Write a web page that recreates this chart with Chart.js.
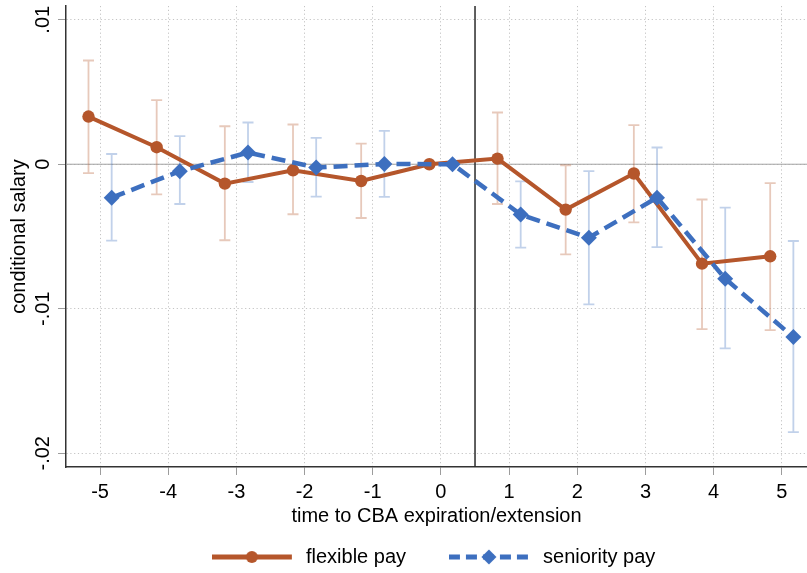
<!DOCTYPE html>
<html>
<head>
<meta charset="utf-8">
<script src="https://cdn.jsdelivr.net/npm/chart.js@4/dist/chart.umd.min.js"></script>
<style>
html,body{margin:0;padding:0;background:#fff;}
#wrap{width:807px;height:573px;}
</style>
</head>
<body>
<div id="wrap"><canvas id="c" width="807" height="573"></canvas></div>
<script>
// ---- data ----
const periods = [-5, -4, -3, -2, -1, 0, 1, 2, 3, 4, 5];
const seriesLabels = ['flexible pay', 'seniority pay'];

const flexibleCoef = [0.00330, 0.00118, -0.00134, -0.00042, -0.00116, 0, 0.00039, -0.00314, -0.00064, -0.00688, -0.00637];
const flexibleHi   = [0.00718, 0.00443, 0.00263, 0.00275, 0.00143, null, 0.00358, -0.00007, 0.00270, -0.00244, -0.00130];
const flexibleLo   = [-0.00062, -0.00208, -0.00526, -0.00346, -0.00372, null, -0.00275, -0.00623, -0.00402, -0.01141, -0.01148];

const seniorityCoef = [-0.00231, -0.00048, 0.00081, -0.00023, 0.00002, 0, -0.00348, -0.00508, -0.00231, -0.00792, -0.01196];
const seniorityHi   = [0.00071, 0.00194, 0.00289, 0.00182, 0.00231, null, -0.00118, -0.00048, 0.00116, -0.00300, -0.00531];
const seniorityLo   = [-0.00528, -0.00275, -0.00123, -0.00224, -0.00226, null, -0.00577, -0.00970, -0.00573, -0.01274, -0.01854];

const xTickValues = [-5, -4, -3, -2, -1, 0, 1, 2, 3, 4, 5];
const yTickValues = [-0.02, -0.01, 0, 0.01];
const yTickLabels = ['-.02', '-.01', '0', '.01'];
const eventLine = 0.5;

// ---- styling ----
const FONT = '"Liberation Sans", Arial, Helvetica, sans-serif';
const flexColor = '#B5562B';
const senColor = '#3D6FBF';
const flexCI = 'rgba(181,86,43,0.32)';
const senCI = 'rgba(61,111,191,0.32)';
const flexOffset = -0.17;
const senOffset = 0.17;

Chart.defaults.font.family = FONT;
Chart.defaults.color = '#000';

// legend key: 80px sample on the left of a 90px wide image
function legendImage(color, dash, shape) {
  const c = document.createElement('canvas');
  c.width = 90; c.height = 20;
  const g = c.getContext('2d');
  g.strokeStyle = color;
  g.lineWidth = 5;
  g.setLineDash(dash);
  g.beginPath(); g.moveTo(0, 10); g.lineTo(80, 10); g.stroke();
  g.setLineDash([]);
  g.fillStyle = color;
  g.beginPath();
  if (shape === 'circle') {
    g.arc(40, 10, 6, 0, Math.PI * 2);
  } else {
    g.moveTo(40, 2.5); g.lineTo(47.5, 10); g.lineTo(40, 17.5); g.lineTo(32.5, 10); g.closePath();
  }
  g.fill();
  return c;
}
const legendImages = [legendImage(flexColor, [], 'circle'), legendImage(senColor, [11, 6], 'diamond')];

const errorSeries = [
  {lo: flexibleLo, hi: flexibleHi, offset: flexOffset, color: flexCI},
  {lo: seniorityLo, hi: seniorityHi, offset: senOffset, color: senCI}
];

const decorations = {
  id: 'decorations',
  beforeDatasetsDraw(chart) {
    const {ctx, chartArea: a, scales: {x, y}} = chart;
    ctx.save();
    // zero reference line
    const y0 = y.getPixelForValue(0);
    ctx.strokeStyle = '#a3a3a3';
    ctx.lineWidth = 1;
    ctx.beginPath(); ctx.moveTo(a.left, y0); ctx.lineTo(a.right, y0); ctx.stroke();
    // event line
    const xe = x.getPixelForValue(eventLine);
    ctx.strokeStyle = '#2b2b2b';
    ctx.lineWidth = 1.5;
    ctx.beginPath(); ctx.moveTo(xe, a.top); ctx.lineTo(xe, a.bottom); ctx.stroke();
    // confidence intervals
    ctx.lineWidth = 1.8;
    errorSeries.forEach(s => {
      ctx.strokeStyle = s.color;
      periods.forEach((p, i) => {
        if (s.lo[i] == null || s.hi[i] == null) return;
        const px = x.getPixelForValue(p + s.offset);
        const yl = y.getPixelForValue(s.lo[i]);
        const yh = y.getPixelForValue(s.hi[i]);
        ctx.beginPath();
        ctx.moveTo(px, yl); ctx.lineTo(px, yh);
        ctx.moveTo(px - 5.5, yl); ctx.lineTo(px + 5.5, yl);
        ctx.moveTo(px - 5.5, yh); ctx.lineTo(px + 5.5, yh);
        ctx.stroke();
      });
    });
    ctx.restore();
  }
};

new Chart(document.getElementById('c'), {
  type: 'line',
  data: {
    datasets: [
      {
        label: seriesLabels[0],
        data: periods.map((p, i) => ({x: p + flexOffset, y: flexibleCoef[i]})),
        borderColor: flexColor,
        backgroundColor: flexColor,
        borderWidth: 4,
        pointStyle: 'circle',
        pointRadius: 6.2,
        pointBorderWidth: 0,
        pointBackgroundColor: flexColor,
        tension: 0,
        order: 1
      },
      {
        label: seriesLabels[1],
        data: periods.map((p, i) => ({x: p + senOffset, y: seniorityCoef[i]})),
        borderColor: senColor,
        backgroundColor: senColor,
        borderWidth: 4.5,
        borderDash: [14, 7],
        pointStyle: 'rectRot',
        pointRadius: 8,
        pointBorderWidth: 0,
        pointBackgroundColor: senColor,
        tension: 0,
        order: 0
      }
    ]
  },
  options: {
    responsive: false,
    animation: false,
    events: [],
    layout: {autoPadding: false, padding: {top: 6, right: 0, left: 0, bottom: -4}},
    plugins: {
      tooltip: {enabled: false},
      legend: {
        position: 'bottom',
        fullSize: false,
        labels: {
          usePointStyle: true,
          pointStyleWidth: 78.3,
          padding: 48.7,
          font: {size: 20, family: FONT},
          color: '#000',
          generateLabels: chart => chart.data.datasets.map((ds, i) => ({
            text: ds.label,
            datasetIndex: i,
            pointStyle: legendImages[i],
            rotation: 0,
            hidden: false,
            fontColor: '#000',
            fillStyle: ds.borderColor,
            strokeStyle: ds.borderColor,
            lineWidth: 0
          }))
        }
      }
    },
    scales: {
      x: {
        type: 'linear',
        min: -5.5,
        max: 5.37,
        afterBuildTicks: s => { s.ticks = xTickValues.map(v => ({value: v})); },
        afterFit: s => { s.height = 31.3; s.paddingLeft = 0; s.paddingRight = 0; },
        ticks: {
          autoSkip: false,
          maxRotation: 0,
          padding: 5.5,
          color: '#000',
          font: {size: 20, family: FONT},
          callback: v => String(v)
        },
        grid: {
          color: '#c4c4c4',
          lineWidth: 1,
          drawTicks: true,
          tickLength: 8,
          tickColor: '#9c9c9c',
          tickWidth: 1
        },
        border: {display: true, color: '#333', width: 1.5, dash: [1.2, 2.6]},
        title: {
          display: true,
          text: 'time to CBA expiration/extension',
          color: '#000',
          font: {size: 20, family: FONT},
          padding: {top: 0, bottom: -30.2}
        }
      },
      y: {
        type: 'linear',
        min: -0.02095,
        max: 0.01095,
        afterBuildTicks: s => { s.ticks = yTickValues.map(v => ({value: v})); },
        afterFit: s => { s.width = 66; s.paddingTop = 0; s.paddingBottom = 0; },
        ticks: {
          autoSkip: false,
          minRotation: 90,
          maxRotation: 90,
          crossAlign: 'center',
          padding: -3,
          color: '#000',
          font: {size: 20, family: FONT, lineHeight: 0.6},
          callback: (v, i) => yTickLabels[i]
        },
        grid: {
          color: '#c4c4c4',
          lineWidth: 1,
          drawTicks: true,
          tickLength: 8,
          tickColor: '#9c9c9c',
          tickWidth: 1
        },
        border: {display: true, color: '#333', width: 1.5, dash: [1.2, 2.6]},
        title: {
          display: true,
          text: 'conditional salary',
          color: '#000',
          font: {size: 20, family: FONT},
          padding: {top: 7.3, bottom: 0}
        }
      }
    }
  },
  plugins: [decorations]
});
</script>
</body>
</html>
